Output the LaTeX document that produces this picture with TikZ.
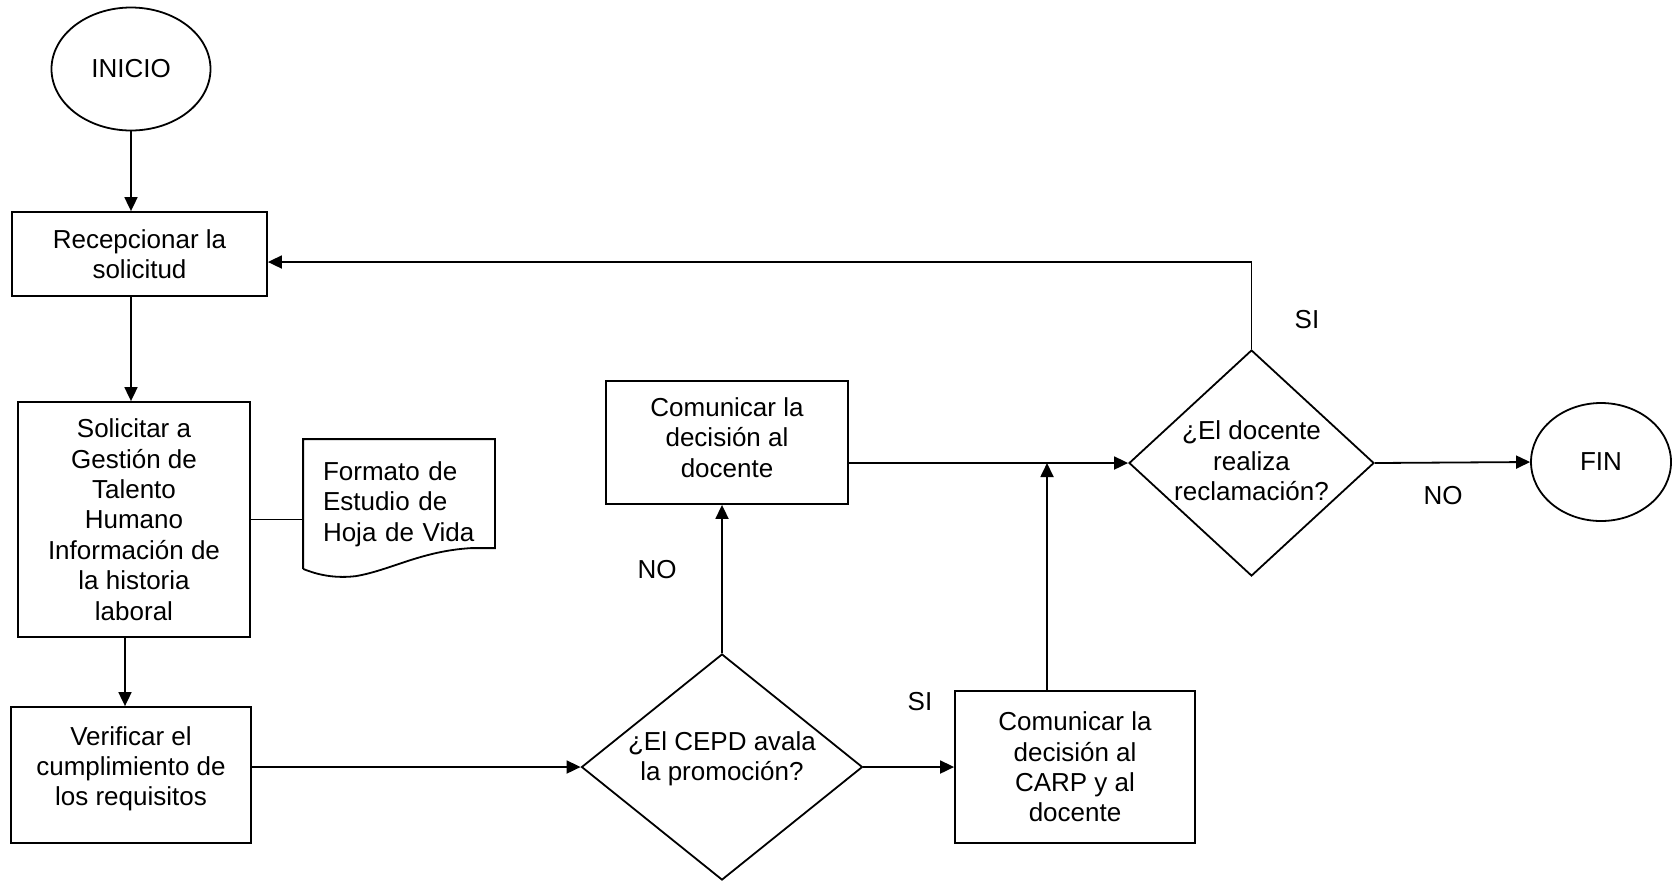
\documentclass[tikz,border=0pt]{standalone}
\usepackage{fontspec}
\setmainfont{Liberation Sans}
\usetikzlibrary{shapes.geometric,arrows.meta}
\begin{document}
\begin{tikzpicture}[x=0.5pt,y=-0.5pt,line width=0.9pt,font=\fontsize{13}{15.2}\selectfont,>={Triangle[length=7pt,width=6.5pt]},
		proc/.style={draw,rectangle,align=center,inner sep=0pt},
		term/.style={draw,ellipse,inner sep=0pt},
		deci/.style={draw,diamond,inner sep=0pt},
		lbl/.style={inner sep=0pt}]
	\useasboundingbox (0,0) rectangle (1673,880);
	\node[term,minimum width=79.5pt,minimum height=61.5pt] (inicio) at (131,69) {INICIO};
	\node[proc,minimum width=127.5pt,minimum height=42pt] (rec) at (139.5,254) {Recepcionar la\\solicitud};
	\node[proc,minimum width=116pt,minimum height=117.5pt] (sol) at (134,519.5) {Solicitar a\\Gestión de\\Talento\\Humano\\Información de\\la historia\\laboral};
	\node[inner xsep=9.5pt,inner ysep=0pt,text width=76pt,align=left,minimum width=95pt,minimum height=64pt] (doc) at (399,504) {Formato de\\Estudio de\\Hoja de Vida};
	\node[proc,minimum width=120pt,minimum height=68pt] (ver) at (131,775) {Verificar el\\cumplimiento de\\los requisitos\\[-6.2pt]};
	\node[deci,minimum width=140.5pt,minimum height=113pt] (d1) at (722,767) {};
	\node[align=center] (d1t) at (722,759) {¿El CEPD avala\\la promoción?};
	\node[proc,minimum width=121pt,minimum height=61.5pt] (cd1) at (727,442.5) {Comunicar la\\decisión al\\docente\\[-10.2pt]};
	\node[proc,minimum width=120pt,minimum height=76pt] (cd2) at (1075,767) {Comunicar la\\decisión al\\CARP y al\\docente};
	\node[deci,minimum width=122.5pt,minimum height=113pt] (d2) at (1251.5,463) {};
	\node[align=center] (d2t) at (1251.5,461) {¿El docente\\realiza\\reclamación?};
	\node[term,minimum width=70pt,minimum height=59pt] (fin) at (1601,462) {FIN};
	\node[lbl] (no1) at (657,570) {NO};
	\node[lbl] (si1) at (920,702) {SI};
	\node[lbl] (si2) at (1307,320) {SI};
	\node[lbl] (no2) at (1443,496) {NO};
	% documento
	\draw (doc.south west) -- (doc.north west) -- (doc.north east) -- ++(0,109) -- ++(-24,0)
		.. controls +(-50,3) and +(35,-6) .. ++(-115,28)
		.. controls +(-25,3) and +(10,4) .. (doc.south west);
	\draw (sol.east) -- (sol.east -| doc.west);
	% flechas
	\draw[->] (inicio.south) -- (inicio.south |- rec.north);
	\draw[->] (rec.south -| inicio.south) -- (sol.north -| inicio.south);
	\draw[->] ([xshift=-4.5pt]sol.south) -- ([xshift=-4.5pt]sol.south |- ver.north);
	\draw[->] (ver.east |- d1) -- (d1.west);
	\draw[->] (d1.north) -- (d1.north |- cd1.south);
	\draw[->] (d1.east) -- (cd2.west |- d1.east);
	\draw[->] ([xshift=-14pt]cd2.north) -- ([xshift=-14pt]cd2.north |- d2);
	\draw[->] (cd1.east |- d2) -- (d2.west);
	\draw[->] (d2.north) |- ([yshift=-4pt]rec.east);
	\draw[->] (d2.east) -- (fin.west);
\end{tikzpicture}
\end{document}
